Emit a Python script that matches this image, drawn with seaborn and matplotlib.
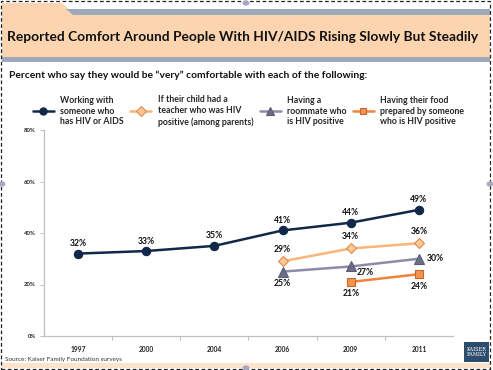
import numpy as np
import pandas as pd
import seaborn as sns
import matplotlib.pyplot as plt
from matplotlib.patches import Rectangle, Polygon, Circle
from matplotlib.lines import Line2D

years = ['1997', '2000', '2004', '2006', '2009', '2011']
working = [32, 33, 35, 41, 44, 49]
teacher = [None, None, None, 29, 34, 36]
roommate = [None, None, None, 25, 27, 30]
food = [None, None, None, None, 21, 24]

labels = ['Working with\nsomeone who\nhas HIV or AIDS',
          'If their child had a\nteacher who was HIV\npositive (among parents)',
          'Having a\nroommate who\nis HIV positive',
          'Having their food\nprepared by someone\nwho is HIV positive']

sns.set_theme(style='white')
plt.rcParams['font.family'] = ['Lato', 'DejaVu Sans']

W, H = 493, 370
fig = plt.figure(figsize=(W / 100, H / 100), dpi=100)

def fx(x):
    return x / W

def fy(y):
    return 1 - y / H

# header band
peach = '#fdd4b0'
grey = '#9eaaba'
fig.patches.append(Polygon([(fx(2), fy(3)), (fx(62), fy(3)), (fx(75), fy(15)),
                            (fx(490), fy(15)), (fx(490), fy(57)), (fx(2), fy(57))],
                           closed=True, transform=fig.transFigure, color=peach, lw=0))
fig.patches.append(Polygon([(fx(66), fy(9)), (fx(490), fy(9)), (fx(490), fy(15)), (fx(73), fy(15))],
                           closed=True, transform=fig.transFigure, color=grey, lw=0))
fig.patches.append(Rectangle((fx(2), fy(62)), fx(488), 5 / H, transform=fig.transFigure,
                             color=grey, lw=0))
fig.patches.append(Rectangle((fx(2), fy(368)), fx(488), 5 / H, transform=fig.transFigure,
                             color='#fde3cc', lw=0))

fig.text(fx(7), fy(37), 'Reported Comfort Around People With HIV/AIDS Rising Slowly But Steadily',
         fontsize=9.9, fontweight='bold', color='#111111', va='center', ha='left')
fig.text(fx(9), fy(75), 'Percent who say they would be \u201cvery\u201d comfortable with each of the following:',
         fontsize=7.4, fontweight='bold', color='#111111', va='center', ha='left')

ax = fig.add_axes([fx(44), fy(336), fx(453 - 44), (336 - 130) / H])

styles = [
    dict(color='#12284a', marker='o', mfc='#12284a', mec='#12284a', ms=6),
    dict(color='#fbb47a', marker='D', mfc='#fcc898', mec='#e08a4c', ms=5.5),
    dict(color='#8c8ca6', marker='^', mfc='#6c6e88', mec='#5a5c76', ms=6.5),
    dict(color='#f0823a', marker='s', mfc='#f39350', mec='#c8652a', ms=5.5),
]

df = pd.DataFrame({'year': years, 'working': working, 'teacher': teacher,
                   'roommate': roommate, 'food': food})

handles = []
for col, st in zip(['working', 'teacher', 'roommate', 'food'], styles):
    sub = df[['year', col]].dropna()
    sns.lineplot(data=sub, x='year', y=col, ax=ax, color=st['color'], lw=1.8,
                 marker=st['marker'], markersize=st['ms'], markerfacecolor=st['mfc'],
                 markeredgecolor=st['mec'], markeredgewidth=0.8, sort=False)
    handles.append(Line2D([], [], color=st['color'], lw=1.8, marker=st['marker'],
                          markersize=st['ms'] - 0.8, markerfacecolor=st['mfc'],
                          markeredgecolor=st['mec'], markeredgewidth=0.8))

# data label offsets in pixels (dx, dy up)
offsets = {
    'working': [(0, 10)] * 6,
    'teacher': [(0, 12)] * 3,
    'roommate': [(0, -12), (14, -6), (16, 0)],
    'food': [(0, -12), (0, -12)],
}
for col in ['working', 'teacher', 'roommate', 'food']:
    sub = df[['year', col]].dropna().reset_index(drop=True)
    for i, row in sub.iterrows():
        dx, dy = offsets[col][i]
        ax.annotate(f"{int(row[col])}%", (row['year'], row[col]), xytext=(dx * 0.72, dy * 0.72),
                    textcoords='offset points', ha='center', va='center',
                    fontsize=6.2, fontweight='bold', color='#111111')

ax.set_xlim(-0.5, 5.5)
ax.set_ylim(0, 80)
ax.set_yticks([0, 20, 40, 60, 80])
ax.set_yticklabels([f'{v}%' for v in [0, 20, 40, 60, 80]])
ax.set_xlabel('')
ax.set_ylabel('')
ax.set_xticks(np.arange(0.5, 5, 1), minor=True)
for s in ['top', 'right']:
    ax.spines[s].set_visible(False)
for s in ['left', 'bottom']:
    ax.spines[s].set_color('#bfbfbf')
    ax.spines[s].set_linewidth(0.9)
ax.tick_params(axis='y', which='major', left=True, length=3, width=0.7, color='#bfbfbf',
               labelsize=4.3, pad=3)
ax.tick_params(axis='x', which='major', bottom=False, labelsize=4.8, pad=1.5)
ax.tick_params(axis='x', which='minor', bottom=True, length=3, width=0.7, color='#bfbfbf')
for lab in ax.get_xticklabels() + ax.get_yticklabels():
    lab.set_fontweight('bold')
    lab.set_color('#222222')
ax.patch.set_alpha(0)

leg = fig.legend(handles, labels, ncol=4, loc='center left', bbox_to_anchor=(fx(25), fy(111)),
                 frameon=False, prop={'weight': 'bold', 'size': 6.3},
                 handlelength=2.4, handletextpad=0.75, columnspacing=0.7, labelspacing=0.2)
for t in leg.get_texts():
    t.set_linespacing(1.25)

fig.text(fx(5), fy(360), 'Source: Kaiser Family Foundation surveys', fontsize=4.6,
         color='#333333', va='center', ha='left')

# logo
fig.patches.append(Rectangle((fx(464), fy(362)), fx(25), 20 / H, transform=fig.transFigure,
                             color='#2e4c6e', lw=0))
fig.text(fx(476.5), fy(352), 'KAISER\nFAMILY', fontsize=3.6, color='white', ha='center',
         va='center', family='DejaVu Serif', linespacing=0.9)

# selection border and handles
fig.patches.append(Rectangle((fx(1), fy(369)), fx(489), 368 / H, transform=fig.transFigure,
                             fill=False, ls=(0, (3, 2)), lw=0.9, ec='#222222'))
for (hx, hy) in [(246, 3), (2, 184), (490, 184), (246, 368)]:
    fig.patches.append(Circle((fx(hx), fy(hy)), 3.5 / W, transform=fig.transFigure,
                              color='#a8a8c4', lw=0))

fig.savefig('out.png', dpi=100)
